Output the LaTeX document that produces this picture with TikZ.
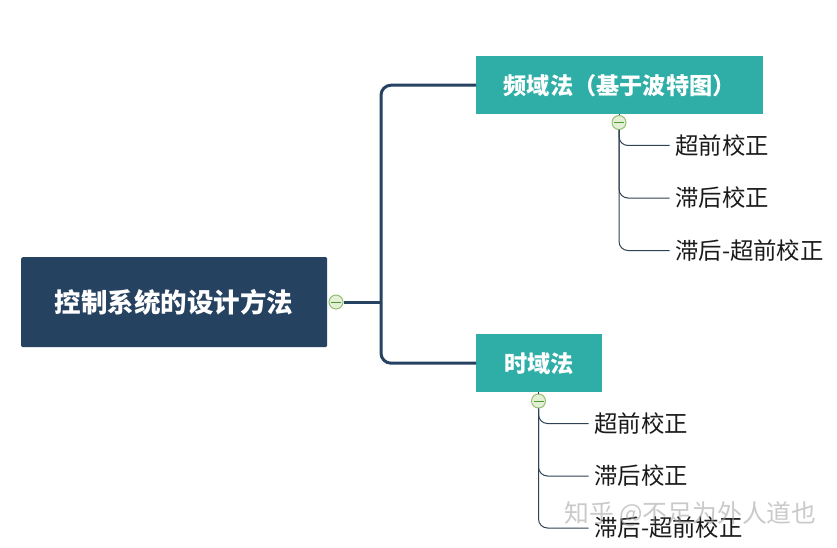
\documentclass[tikz,border=0pt]{standalone}
\usepackage{fontspec}
\setmainfont{Noto Sans CJK SC}
\definecolor{navy}{HTML}{264261}
\definecolor{teal2}{HTML}{2EAEA7}
\definecolor{line2}{HTML}{2F4254}
\definecolor{togfill}{HTML}{E3F0D6}
\definecolor{togedge}{HTML}{96BE73}
\definecolor{togbar}{HTML}{4E9A2E}
\definecolor{ink}{HTML}{1A1A1A}
\tikzset{
  rootbox/.style={fill=navy,rounded corners=1.5pt,text=white,font=\fontsize{26.5}{29}\selectfont\bfseries,minimum width=306pt,minimum height=90pt,inner sep=0pt,anchor=north west},
  topicbox/.style={fill=teal2,text=white,font=\fontsize{23.2}{26}\selectfont\bfseries,minimum height=58pt,inner sep=0pt,anchor=north west},
  leaflabel/.style={text=ink,font=\fontsize{23.4}{26}\selectfont,inner xsep=5.5pt,inner ysep=0pt,anchor=west},
  toggle/.style={circle,draw=togedge,line width=1pt,fill=togfill,minimum size=14pt,inner sep=0pt,
    path picture={\draw[togbar,line width=.9pt] ([xshift=-5pt]path picture bounding box.center) -- ([xshift=5pt]path picture bounding box.center);}},
  mainline/.style={draw=navy,line width=3pt},
  leafline/.style={draw=line2,line width=1pt,rounded corners=9pt},
  stubline/.style={draw=line2,line width=.8pt},
  mark2/.style={text=gray!75,opacity=.55,font=\fontsize{24.8}{27}\selectfont}
}
\begin{document}
\begin{tikzpicture}[x=1pt,y=-1pt]
\useasboundingbox (0,0) rectangle (837,548);
\fill[white] (0,0) rectangle (837,548);
\coordinate (trunk) at (381,302);
\node[rootbox] (root) at (21,257) {控制系统的设计方法};
\node[topicbox,minimum width=287pt] (freq) at (476,56) {频域法（基于波特图）};
\node[topicbox,minimum width=126pt] (time) at (476,334) {时域法};
\node[toggle] (t0) at (336,302) {};
\node[toggle] (t1) at (619,122.5) {};
\node[toggle] (t2) at (538.5,401) {};
\node[leaflabel] (a1) at (669.5,145.5) {超前校正};
\node[leaflabel] (a2) at (669.5,198) {滞后校正};
\node[leaflabel] (a3) at (669.5,250.5) {滞后-超前校正};
\node[leaflabel] (b1) at (588.5,423.5) {超前校正};
\node[leaflabel] (b2) at (588.5,476) {滞后校正};
\node[leaflabel] (b3) at (588.5,528) {滞后-超前校正};
\draw[mainline] (t0.east) -- (trunk);
\draw[mainline,rounded corners=10pt] (trunk) -- (trunk |- freq.west) -- (freq.west);
\draw[mainline,rounded corners=10pt] (trunk) -- (trunk |- time.west) -- (time.west);
\draw[leafline] (t1.south) -- (t1.south |- a1.west) -- (a1.west);
\draw[leafline] (t1.south) -- (t1.south |- a2.west) -- (a2.west);
\draw[leafline] (t1.south) -- (t1.south |- a3.west) -- (a3.west);
\draw[leafline] (t2.south) -- (t2.south |- b1.west) -- (b1.west);
\draw[leafline] (t2.south) -- (t2.south |- b2.west) -- (b2.west);
\draw[leafline] (t2.south) -- (t2.south |- b3.west) -- (b3.west);
\draw[stubline] (freq.south -| t1) -- (t1.north);
\draw[stubline] (time.south -| t2) -- (t2.north);
\node[mark2,anchor=west,inner sep=0pt] (wm) at (564,514) {知乎 @不足为外人道也};
\end{tikzpicture}
\end{document}
